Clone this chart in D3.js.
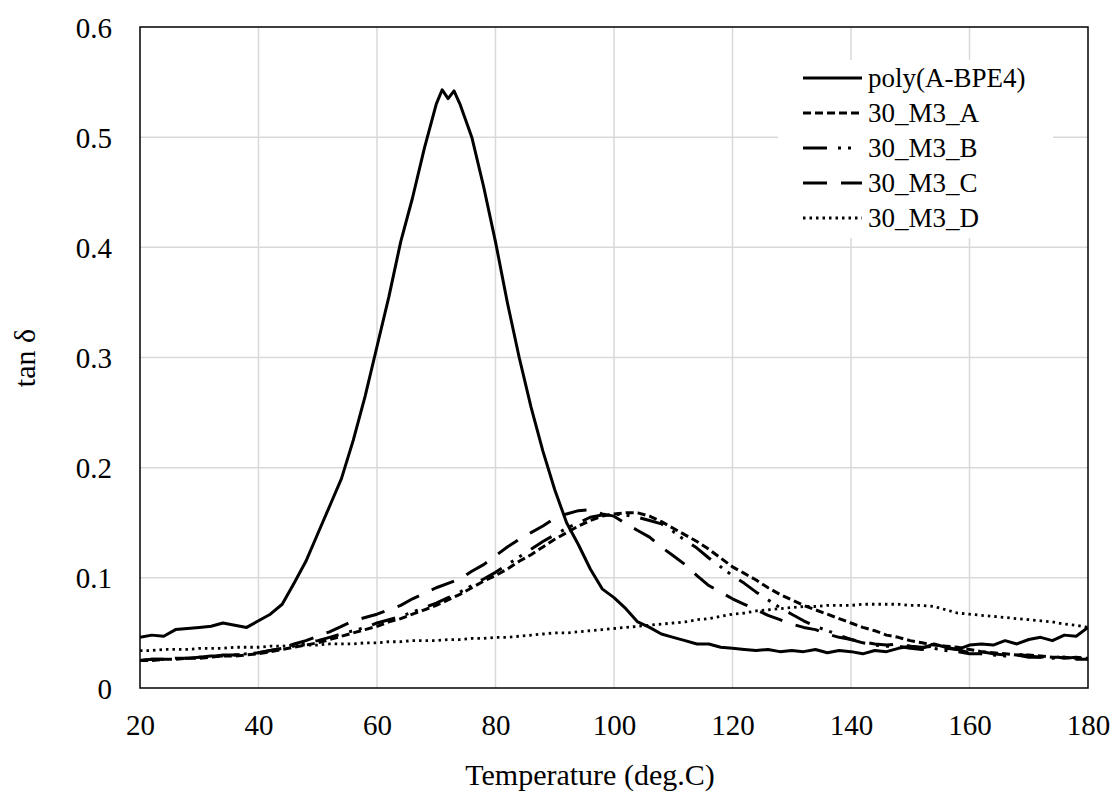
<!DOCTYPE html>
<html>
<head>
<meta charset="utf-8">
<script src="https://cdn.jsdelivr.net/npm/d3@7"></script>
<style>
  body { margin: 0; background: #fff; }
  text { font-family: "Liberation Serif", "Times New Roman", serif; fill: #000; }
</style>
</head>
<body>
<div id="chart"></div>
<script>
// tick values
var xTicks = [20, 40, 60, 80, 100, 120, 140, 160, 180]
var yTicks = [0, 0.1, 0.2, 0.3, 0.4, 0.5, 0.6]

// poly(A-BPE4) has its own temperature list (denser round the peak)
var tempPoly = [20,22,24,26,28,30,32,34,36,38,40,42,44,46,48,50,52,54,56,58,60,62,64,66,68,70,71,72,73,74,76,78,80,82,84,86,88,90,92,94,96,98,100,102,104,106,108,110,112,114,116,118,120,122,124,126,128,130,132,134,136,138,140,142,144,146,148,150,152,154,156,158,160,162,164,166,168,170,172,174,176,178,180]
var tanPoly = [0.046,0.048,0.047,0.053,0.054,0.055,0.056,0.059,0.057,0.055,0.061,0.067,0.076,0.095,0.115,0.140,0.165,0.190,0.225,0.265,0.310,0.355,0.405,0.445,0.490,0.530,0.543,0.535,0.542,0.530,0.500,0.455,0.405,0.350,0.300,0.255,0.215,0.180,0.150,0.130,0.108,0.090,0.082,0.072,0.060,0.055,0.049,0.046,0.043,0.040,0.040,0.037,0.036,0.035,0.034,0.035,0.033,0.034,0.033,0.035,0.032,0.034,0.033,0.031,0.034,0.033,0.036,0.038,0.036,0.040,0.037,0.035,0.039,0.040,0.039,0.043,0.040,0.044,0.046,0.043,0.048,0.047,0.055]

// the other four share one temperature list, 20..180 every 2 deg
var tempM3 = [20,22,24,26,28,30,32,34,36,38,40,42,44,46,48,50,52,54,56,58,60,62,64,66,68,70,72,74,76,78,80,82,84,86,88,90,92,94,96,98,100,102,104,106,108,110,112,114,116,118,120,122,124,126,128,130,132,134,136,138,140,142,144,146,148,150,152,154,156,158,160,162,164,166,168,170,172,174,176,178,180]
var tanA = [0.025,0.025,0.026,0.026,0.027,0.027,0.028,0.029,0.029,0.030,0.031,0.033,0.035,0.037,0.039,0.041,0.044,0.047,0.050,0.053,0.056,0.060,0.063,0.067,0.071,0.075,0.080,0.085,0.091,0.097,0.102,0.108,0.115,0.121,0.128,0.135,0.141,0.147,0.152,0.156,0.158,0.159,0.159,0.156,0.151,0.145,0.139,0.133,0.126,0.118,0.110,0.104,0.098,0.091,0.085,0.080,0.075,0.071,0.067,0.063,0.059,0.055,0.052,0.048,0.046,0.043,0.041,0.039,0.038,0.037,0.035,0.033,0.032,0.031,0.030,0.030,0.029,0.028,0.028,0.027,0.027]
var tanB = [0.025,0.026,0.026,0.027,0.027,0.028,0.029,0.029,0.030,0.031,0.032,0.034,0.036,0.038,0.041,0.043,0.046,0.049,0.052,0.055,0.059,0.062,0.065,0.069,0.073,0.077,0.082,0.087,0.093,0.099,0.105,0.112,0.119,0.126,0.133,0.139,0.145,0.150,0.155,0.157,0.158,0.157,0.155,0.152,0.149,0.142,0.134,0.127,0.118,0.110,0.102,0.095,0.087,0.080,0.073,0.067,0.061,0.056,0.052,0.048,0.044,0.041,0.039,0.038,0.038,0.036,0.035,0.036,0.034,0.033,0.031,0.031,0.030,0.029,0.030,0.028,0.028,0.027,0.028,0.026,0.026]
var tanC = [0.025,0.026,0.026,0.027,0.027,0.028,0.028,0.030,0.030,0.031,0.032,0.034,0.036,0.040,0.043,0.047,0.051,0.056,0.061,0.064,0.067,0.071,0.075,0.081,0.086,0.091,0.095,0.099,0.106,0.112,0.120,0.128,0.135,0.141,0.147,0.154,0.158,0.161,0.162,0.158,0.156,0.149,0.143,0.137,0.128,0.120,0.112,0.102,0.093,0.087,0.081,0.076,0.071,0.066,0.062,0.058,0.055,0.053,0.049,0.046,0.044,0.042,0.040,0.039,0.040,0.038,0.037,0.038,0.036,0.035,0.032,0.033,0.031,0.030,0.031,0.029,0.028,0.029,0.027,0.028,0.027]
var tanD = [0.034,0.034,0.035,0.035,0.035,0.036,0.036,0.036,0.037,0.037,0.037,0.038,0.038,0.039,0.039,0.039,0.040,0.040,0.040,0.041,0.041,0.042,0.042,0.043,0.043,0.043,0.044,0.044,0.045,0.045,0.046,0.046,0.047,0.048,0.049,0.050,0.050,0.051,0.052,0.053,0.054,0.055,0.056,0.057,0.058,0.059,0.060,0.062,0.063,0.065,0.067,0.068,0.070,0.071,0.072,0.073,0.074,0.074,0.075,0.075,0.075,0.076,0.076,0.076,0.076,0.075,0.075,0.074,0.071,0.068,0.067,0.066,0.065,0.064,0.063,0.062,0.061,0.060,0.058,0.057,0.055]

var seriesNames = ["poly(A-BPE4)", "30_M3_A", "30_M3_B", "30_M3_C", "30_M3_D"]

var w = 1120, h = 796
var plotL = 140, plotR = 1088, plotT = 27, plotB = 688

var svg = d3.select("#chart").append("svg")
  .attr("width", w)
  .attr("height", h)

svg.append("rect").attr("width", w).attr("height", h).attr("fill", "white")

var x = d3.scaleLinear().domain([20, 180]).range([plotL, plotR])
var y = d3.scaleLinear().domain([0, 0.6]).range([plotB, plotT])

// gridlines
svg.append("g").selectAll("line")
  .data(xTicks.slice(1, -1))
  .enter().append("line")
  .attr("x1", d => x(d)).attr("x2", d => x(d))
  .attr("y1", plotT).attr("y2", plotB)
  .attr("stroke", "#d9d9d9").attr("stroke-width", 1.5)

svg.append("g").selectAll("line")
  .data(yTicks.slice(1, -1))
  .enter().append("line")
  .attr("x1", plotL).attr("x2", plotR)
  .attr("y1", d => y(d)).attr("y2", d => y(d))
  .attr("stroke", "#d9d9d9").attr("stroke-width", 1.5)

// tick labels, no tick marks
var xAxis = svg.append("g")
  .attr("transform", "translate(0," + plotB + ")")
  .call(d3.axisBottom(x).tickValues(xTicks).tickSize(0).tickPadding(0).tickFormat(d3.format("d")))
xAxis.select(".domain").remove()
xAxis.selectAll("text")
  .attr("y", 47).attr("dy", null)
  .attr("fill", "#000")
  .style("font-size", "29px")
  .style("font-family", "Liberation Serif")

var yAxis = svg.append("g")
  .attr("transform", "translate(" + plotL + ",0)")
  .call(d3.axisLeft(y).tickValues(yTicks).tickSize(0).tickPadding(0).tickFormat(d => d === 0 ? "0" : d3.format(".1f")(d)))
yAxis.select(".domain").remove()
yAxis.selectAll("text")
  .attr("x", -28).attr("dy", "0.35em")
  .attr("fill", "#000")
  .style("font-size", "29px")
  .style("font-family", "Liberation Serif")

// clip lines to plot
svg.append("clipPath").attr("id", "clip")
  .append("rect").attr("x", plotL).attr("y", plotT).attr("width", plotR - plotL).attr("height", plotB - plotT)

var line = d3.line()
  .x(d => x(d[0]))
  .y(d => y(d[1]))

var series = [
  { name: seriesNames[0], t: tempPoly, v: tanPoly, dash: null, sw: 3 },
  { name: seriesNames[1], t: tempM3, v: tanA, dash: "8,4", sw: 3 },
  { name: seriesNames[2], t: tempM3, v: tanB, dash: "24,11,3,7,3,11", sw: 3 },
  { name: seriesNames[3], t: tempM3, v: tanC, dash: "24,14", sw: 3 },
  { name: seriesNames[4], t: tempM3, v: tanD, dash: "2.5,4", sw: 2.8 }
]

var g = svg.append("g").attr("clip-path", "url(#clip)")
series.slice().reverse().forEach(function(s) {
  g.append("path")
    .datum(s.t.map((t, i) => [t, s.v[i]]))
    .attr("d", line)
    .attr("fill", "none")
    .attr("stroke", "#000")
    .attr("stroke-width", s.sw)
    .attr("stroke-linejoin", "round")
    .attr("stroke-dasharray", s.dash)
})

// plot border
svg.append("rect")
  .attr("x", plotL).attr("y", plotT)
  .attr("width", plotR - plotL).attr("height", plotB - plotT)
  .attr("fill", "none").attr("stroke", "#000").attr("stroke-width", 1.5)

// legend
var lg = svg.append("g")
lg.append("rect")
  .attr("x", 778).attr("y", 60).attr("width", 275).attr("height", 178)
  .attr("fill", "white")

series.forEach(function(s, i) {
  var ly = 78 + i * 35
  lg.append("line")
    .attr("x1", 803).attr("x2", 862)
    .attr("y1", ly).attr("y2", ly)
    .attr("stroke", "#000")
    .attr("stroke-width", s.sw)
    .attr("stroke-dasharray", s.dash)
  lg.append("text")
    .attr("x", 868).attr("y", ly)
    .attr("dy", "0.35em")
    .style("font-size", "27px")
    .text(s.name)
})

// axis titles
svg.append("text")
  .attr("x", 590).attr("y", 785)
  .attr("text-anchor", "middle")
  .style("font-size", "30px")
  .text("Temperature (deg.C)")

svg.append("text")
  .attr("transform", "translate(35,358) rotate(-90)")
  .attr("text-anchor", "middle")
  .style("font-size", "30px")
  .text("tan δ")
</script>
</body>
</html>
